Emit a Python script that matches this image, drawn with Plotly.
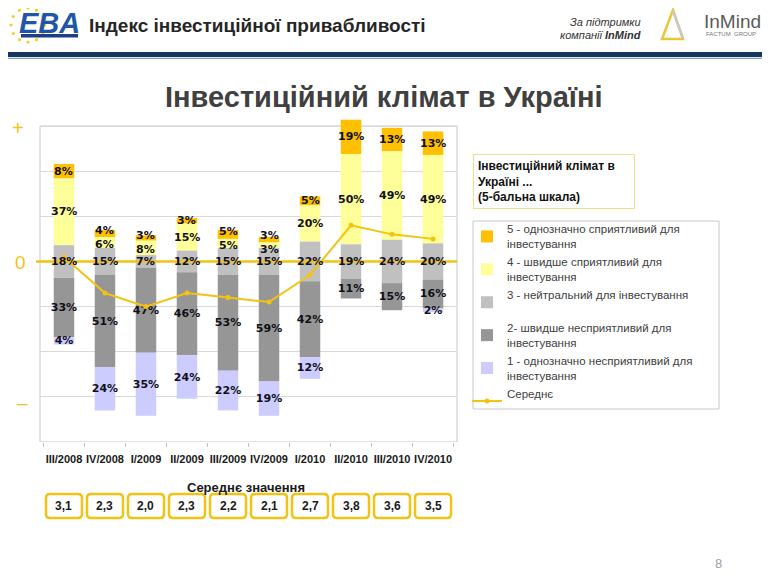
import math
import plotly.graph_objects as go

# ---------------- data ----------------
quarters = ["III/2008", "IV/2008", "I/2009", "II/2009", "III/2009",
            "IV/2009", "I/2010", "II/2010", "III/2010", "IV/2010"]
s5 = [8, 4, 3, 3, 5, 3, 5, 19, 13, 13]        # 5 - однозначно сприятливий
s4 = [37, 6, 8, 15, 5, 3, 20, 50, 49, 49]     # 4 - швидше сприятливий
s3 = [18, 15, 7, 12, 15, 15, 22, 19, 24, 20]  # 3 - нейтральний
s2 = [33, 51, 47, 46, 53, 59, 42, 11, 15, 16] # 2 - швидше несприятливий
s1 = [4, 24, 35, 24, 22, 19, 12, 0, 0, 2]     # 1 - однозначно несприятливий
mean = [3.1, 2.3, 2.0, 2.3, 2.2, 2.1, 2.7, 3.8, 3.6, 3.5]

names = ["5 - однозначно сприятливий для<br>інвестування",
         "4 - швидше сприятливий для<br>інвестування",
         "3 - нейтральний для інвестування<br> ",
         "2- швидше несприятливий для<br>інвестування",
         "1 - однозначно несприятливий для<br>інвестування"]
mean_name = "Середнє<br> "

colors = ["#FFC000", "#FFFF99", "#C0C0C0", "#969696", "#CCCCFF"]
GOLD = "#F2C314"
FONT = "Liberation Sans, Arial, sans-serif"
LABEL_FONT = dict(family="DejaVu Sans, Verdana, sans-serif", size=11,
                  color="#101018", weight="bold")

# ---------------- geometry helpers (layout only) ----------------
# the page body has an 8px margin, so the figure is made 8px smaller
OFF = 8
W, H = 770 - OFF, 577 - OFF
# plot area in screen pixels
L, R, T, B = 40, 457, 117, 442
Y_RANGE = [-100, 80]
PX_PER_UNIT = (B - T) / (Y_RANGE[1] - Y_RANGE[0])
MIN_SEP = 14  # px between stacked labels of the two upper segments


def px(x):
    return (x - L) / (R - L)


def py(y):
    return (B - y) / (B - T)


# bases so that the neutral segment is centred on zero
base3 = [-v / 2 for v in s3]
base4 = [v / 2 for v in s3]
base5 = [a / 2 + b for a, b in zip(s3, s4)]
base2 = [-a / 2 - b for a, b in zip(s3, s2)]
base1 = [-a / 2 - b - c for a, b, c in zip(s3, s2, s1)]

series = [(s5, base5), (s4, base4), (s3, base3), (s2, base2), (s1, base1)]
text_in_bar = [False, False, False, True, True]  # upper + neutral labels are annotations

fig = go.Figure()
for (vals, base), name, col, tib in zip(series, names, colors, text_in_bar):
    fig.add_trace(go.Bar(
        x=quarters, y=vals, base=base, name=name,
        marker=dict(color=col, line=dict(width=0)),
        width=0.5,
        text=[f"{v}%" if (v and tib) else "" for v in vals],
        textposition="inside", insidetextanchor="middle",
        textangle=0, constraintext="none",
        textfont=LABEL_FONT,
        hoverinfo="skip",
    ))

fig.add_trace(go.Scatter(
    x=quarters, y=mean, yaxis="y2", name=mean_name,
    mode="lines+markers",
    line=dict(color=GOLD, width=2),
    marker=dict(color=GOLD, size=5),
))

shapes = []
annotations = []

# plot frame
shapes.append(dict(type="rect", xref="paper", yref="y", x0=0, x1=1, y0=-100, y1=75,
                   line=dict(color="#C8C8C8", width=1), fillcolor="rgba(0,0,0,0)",
                   layer="below"))
# zero line
shapes.append(dict(type="line", xref="paper", yref="y", x0=px(36), x1=1, y0=0, y1=0,
                   line=dict(color=GOLD, width=2.5), layer="above"))

# neutral segment labels (centred on zero, above the zero line)
for q, v in zip(quarters, s3):
    annotations.append(dict(text=f"{v}%", x=q, y=0, xref="x", yref="y", showarrow=False,
                            xanchor="center", yanchor="middle", font=LABEL_FONT))

# labels of segments 5 and 4, pushed apart when the segments are thin
for q, v5, b5, v4, b4 in zip(quarters, s5, base5, s4, base4):
    c5, c4 = b5 + v5 / 2, b4 + v4 / 2
    sep = (c5 - c4) * PX_PER_UNIT
    push = max(0.0, (MIN_SEP - sep) / 2)
    annotations.append(dict(text=f"{v5}%", x=q, y=c5, xref="x", yref="y", showarrow=False,
                            xanchor="center", yanchor="middle", yshift=push,
                            font=LABEL_FONT))
    annotations.append(dict(text=f"{v4}%", x=q, y=c4, xref="x", yref="y", showarrow=False,
                            xanchor="center", yanchor="middle", yshift=-push,
                            font=LABEL_FONT))

# header bands
shapes.append(dict(type="rect", xref="paper", yref="paper", x0=px(0), x1=px(W + OFF),
                   y0=py(57), y1=py(52), fillcolor="#17365D", line=dict(width=0)))
shapes.append(dict(type="line", xref="paper", yref="paper", x0=px(0), x1=px(W + OFF),
                   y0=py(58.3), y1=py(58.3), line=dict(color="#7FA0CC", width=1.2)))

# EBA logo: ring of stars + text
cx, cy, rad = 28, 25, 17
for k in range(12):
    a = 2 * math.pi * k / 12
    sx, sy = cx + rad * math.cos(a), cy + rad * math.sin(a)
    shapes.append(dict(type="circle", xref="paper", yref="paper",
                       x0=px(sx - 1.6), x1=px(sx + 1.6), y0=py(sy + 1.6), y1=py(sy - 1.6),
                       fillcolor="#F5CE2A", line=dict(width=0)))
shapes.append(dict(type="rect", xref="paper", yref="paper", x0=px(21), x1=px(78),
                   y0=py(37.5), y1=py(34), fillcolor="#1F3C88", line=dict(width=0)))
annotations.append(dict(text="<b><i>EBA</i></b>", x=px(49), y=py(23), xref="paper", yref="paper",
                        showarrow=False, xanchor="center", yanchor="middle",
                        font=dict(family=FONT, size=29, color="#1F56A8")))

# header title
annotations.append(dict(text="<b>Індекс інвестиційної привабливості</b>", x=px(87), y=py(26),
                        xref="paper", yref="paper", showarrow=False,
                        xanchor="left", yanchor="middle",
                        font=dict(family=FONT, size=19, color="#262626")))

# right header
annotations.append(dict(text="<i>За підтримки</i>", x=px(643), y=py(22), xref="paper",
                        yref="paper", showarrow=False, xanchor="right", yanchor="middle",
                        font=dict(family=FONT, size=11, color="#333333")))
annotations.append(dict(text="<i>компанії <b>InMind</b></i>", x=px(643), y=py(34.5),
                        xref="paper", yref="paper", showarrow=False, xanchor="right",
                        yanchor="middle", font=dict(family=FONT, size=11, color="#333333")))
# InMind triangle
shapes.append(dict(type="path", xref="paper", yref="paper",
                   path=f"M{px(673)},{py(10)} L{px(662)},{py(39)} L{px(683)},{py(39)} Z",
                   fillcolor="rgba(0,0,0,0)", line=dict(color="#E9C63A", width=2.5)))
shapes.append(dict(type="line", xref="paper", yref="paper",
                   x0=px(673), y0=py(11), x1=px(683), y1=py(38),
                   line=dict(color="#C9C9C9", width=2.5)))
annotations.append(dict(text="InMind", x=px(702), y=py(22), xref="paper", yref="paper",
                        showarrow=False, xanchor="left", yanchor="middle",
                        font=dict(family=FONT, size=19, color="#5A5A5A")))
annotations.append(dict(text="FACTUM  GROUP", x=px(704), y=py(34), xref="paper", yref="paper",
                        showarrow=False, xanchor="left", yanchor="middle",
                        font=dict(family=FONT, size=6, color="#777777")))

# main title
annotations.append(dict(text="<b>Інвестиційний клімат в Україні</b>", x=px(384), y=py(97),
                        xref="paper", yref="paper", showarrow=False,
                        xanchor="center", yanchor="middle",
                        font=dict(family=FONT, size=29, color="#404040")))

# + / 0 / – markers
for txt, xx, yy, sz in [("+", 18, 128, 20), ("0", 20, 262, 19), ("–", 22, 402, 19)]:
    annotations.append(dict(text=txt, x=px(xx), y=py(yy), xref="paper", yref="paper",
                            showarrow=False, xanchor="center", yanchor="middle",
                            font=dict(family=FONT, size=sz, color=GOLD)))

# legend title box
annotations.append(dict(text="<b>Інвестиційний клімат в<br>Україні ...<br>(5-бальна шкала)</b>",
                        x=px(473), y=py(154), xref="paper", yref="paper", showarrow=False,
                        xanchor="left", yanchor="top", align="left", width=152,
                        bordercolor="#EEE08A", borderwidth=1, borderpad=4, bgcolor="white",
                        font=dict(family=FONT, size=12, color="#111111")))

# legend frame
shapes.append(dict(type="rect", xref="paper", yref="paper", x0=px(473), x1=px(719),
                   y0=py(409), y1=py(221), line=dict(color="#C8C8C8", width=1),
                   fillcolor="rgba(0,0,0,0)"))

# mean-value boxes
annotations.append(dict(text="<b>Середнє значення</b>", x=px(246), y=py(487), xref="paper",
                        yref="paper", showarrow=False, xanchor="center", yanchor="middle",
                        font=dict(family=FONT, size=13, color="#1a1a1a")))
box_path = ("M-14,-12 L14,-12 Q18,-12 18,-8 L18,8 Q18,12 14,12 L-14,12 "
            "Q-18,12 -18,8 L-18,-8 Q-18,-12 -14,-12 Z")
for q, m in zip(quarters, mean):
    shapes.append(dict(type="path", xref="x", yref="paper", xsizemode="pixel",
                       ysizemode="pixel", xanchor=q, yanchor=py(506), path=box_path,
                       fillcolor="white", line=dict(color=GOLD, width=2.5)))
    annotations.append(dict(text=f"<b>{m:.1f}</b>".replace(".", ","), x=q, y=py(506),
                            xref="x", yref="paper", showarrow=False,
                            xanchor="center", yanchor="middle",
                            font=dict(family=FONT, size=12, color="#1a1a1a")))

# page number
annotations.append(dict(text="8", x=px(718), y=py(563), xref="paper", yref="paper",
                        showarrow=False, xanchor="center", yanchor="middle",
                        font=dict(family=FONT, size=13, color="#A0A0A0")))

fig.update_layout(
    width=W, height=H,
    margin=dict(l=L - OFF, r=W - (R - OFF), t=T - OFF, b=H - (B - OFF), pad=0),
    paper_bgcolor="white", plot_bgcolor="white",
    font=dict(family=FONT, size=12, color="#404040"),
    barmode="overlay",
    showlegend=True,
    legend=dict(x=px(467), y=py(215), xanchor="left", yanchor="top",
                borderwidth=0, bgcolor="rgba(0,0,0,0)",
                font=dict(family=FONT, size=11.5, color="#404040"),
                traceorder="normal"),
    uniformtext=dict(minsize=11, mode="show"),
    xaxis=dict(type="category", showgrid=False, showline=False, zeroline=False,
               ticks="outside", tickson="boundaries", ticklen=4, tickcolor="#BFBFBF",
               tickangle=0, ticklabelstandoff=9,
               tickfont=dict(family=FONT, size=11, color="#1a1a1a", weight="bold")),
    yaxis=dict(range=Y_RANGE, dtick=25, tick0=0, showgrid=True, gridcolor="#D9D9D9",
               gridwidth=1, zeroline=False, showticklabels=False, ticks="", showline=False),
    yaxis2=dict(range=[-1, 6.2], overlaying="y", side="right", showgrid=False,
                zeroline=False, showticklabels=False, showline=False, ticks=""),
    shapes=shapes,
    annotations=annotations,
)

fig.write_html("out.html")
